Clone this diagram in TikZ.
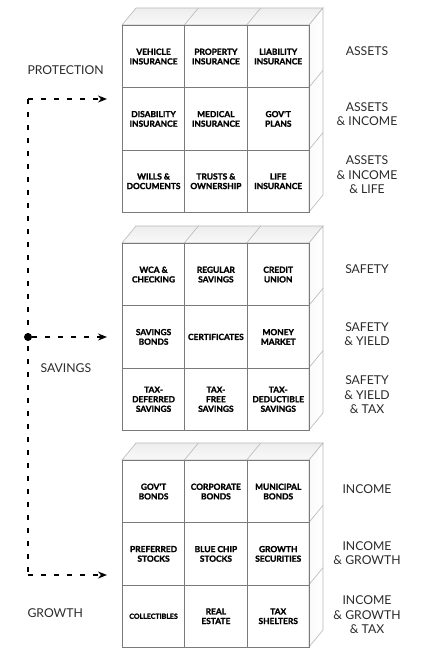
\documentclass[tikz,border=0pt]{standalone}
\usepackage{fontspec}
\setmainfont{Lato}
\newfontfamily\heavyfont[BoldFeatures={FakeBold=1.6}]{Lato}
\usetikzlibrary{arrows.meta}
\definecolor{cellline}{HTML}{7A7A7A}
\definecolor{edgeline}{HTML}{B8B8B8}
\definecolor{labeltext}{HTML}{2A2A2A}
\begin{document}
\begin{tikzpicture}[x=1pt,y=-1pt,
  cell/.style={draw=cellline, line width=0.8pt, minimum width=62.33pt, minimum height=62.33pt,
    inner sep=0pt, font=\heavyfont\bfseries\fontsize{8.4}{9.6}\selectfont, align=center, anchor=north west},
  small/.style={font=\heavyfont\bfseries\fontsize{7}{8}\selectfont},
  topface/.style={draw=edgeline, line width=0.6pt, top color=gray!14, bottom color=gray!5},
  sideface/.style={draw=edgeline, line width=0.6pt, left color=gray!4, right color=white},
  backline/.style={draw=edgeline, line width=0.6pt},
  rlabel/.style={font=\fontsize{12.2}{14.5}\selectfont, text=labeltext, align=center},
  llabel/.style={font=\fontsize{12.2}{14.5}\selectfont, text=labeltext, anchor=west},
  dashline/.style={line width=1.4pt, dash pattern=on 5pt off 8pt},
  tip/.style={-{Stealth[length=9pt,width=7pt]}}
]
\useasboundingbox (0,0) rectangle (433,649);

% ---- cube faces (top and side) ----
\foreach \T in {25,243,460}{
  \path[topface] (122,\T) -- (136,\T-17) -- (323,\T-17) -- (309,\T) -- cycle;
  \path[sideface] (309,\T) -- (323,\T-17) -- (323,\T+170) -- (309,\T+187) -- cycle;
  \draw[backline] (184.33,\T) -- (198.33,\T-17) (246.67,\T) -- (260.67,\T-17);
  \draw[backline] (309,\T+62.33) -- (323,\T+45.33) (309,\T+124.67) -- (323,\T+107.67);
}

% ---- cube 1: protection ----
\node[cell] (c11) at (122,25) {VEHICLE\\INSURANCE};
\node[cell] (c12) at (184.33,25) {PROPERTY\\INSURANCE};
\node[cell] (c13) at (246.67,25) {LIABILITY\\INSURANCE};
\node[cell] (c14) at (122,87.33) {DISABILITY\\INSURANCE};
\node[cell] (c15) at (184.33,87.33) {MEDICAL\\INSURANCE};
\node[cell] (c16) at (246.67,87.33) {GOV'T\\PLANS};
\node[cell] (c17) at (122,149.67) {WILLS \&\\DOCUMENTS};
\node[cell] (c18) at (184.33,149.67) {TRUSTS \&\\OWNERSHIP};
\node[cell] (c19) at (246.67,149.67) {LIFE\\INSURANCE};

% ---- cube 2: savings ----
\node[cell] (c21) at (122,243) {WCA \&\\CHECKING};
\node[cell] (c22) at (184.33,243) {REGULAR\\SAVINGS};
\node[cell] (c23) at (246.67,243) {CREDIT\\UNION};
\node[cell] (c24) at (122,305.33) {SAVINGS\\BONDS};
\node[cell] (c25) at (184.33,305.33) {CERTIFICATES};
\node[cell] (c26) at (246.67,305.33) {MONEY\\MARKET};
\node[cell] (c27) at (122,367.67) {TAX-\\DEFERRED\\SAVINGS};
\node[cell] (c28) at (184.33,367.67) {TAX-\\FREE\\SAVINGS};
\node[cell] (c29) at (246.67,367.67) {TAX-\\DEDUCTIBLE\\SAVINGS};

% ---- cube 3: growth ----
\node[cell] (c31) at (122,460) {GOV'T\\BONDS};
\node[cell] (c32) at (184.33,460) {CORPORATE\\BONDS};
\node[cell] (c33) at (246.67,460) {MUNICIPAL\\BONDS};
\node[cell] (c34) at (122,522.33) {PREFERRED\\STOCKS};
\node[cell] (c35) at (184.33,522.33) {BLUE CHIP\\STOCKS};
\node[cell] (c36) at (246.67,522.33) {GROWTH\\SECURITIES};
\node[cell,small] (c37) at (122,584.67) {COLLECTIBLES};
\node[cell] (c38) at (184.33,584.67) {REAL\\ESTATE};
\node[cell] (c39) at (246.67,584.67) {TAX\\SHELTERS};

% ---- right labels ----
\node[rlabel] (r11) at (367,51) {ASSETS};
\node[rlabel] (r12) at (367,114) {ASSETS\\\& INCOME};
\node[rlabel] (r13) at (367,175) {ASSETS\\\& INCOME\\\& LIFE};
\node[rlabel] (r21) at (367,269) {SAFETY};
\node[rlabel] (r22) at (367,334) {SAFETY\\\& YIELD};
\node[rlabel] (r23) at (367,395) {SAFETY\\\& YIELD\\\& TAX};
\node[rlabel] (r31) at (367,489) {INCOME};
\node[rlabel] (r32) at (367,553) {INCOME\\\& GROWTH};
\node[rlabel] (r33) at (367,615) {INCOME\\\& GROWTH\\\& TAX};

% ---- left labels ----
\node[llabel] (lp) at (24,70) {PROTECTION};
\node[llabel] (ls) at (37,368) {SAVINGS};
\node[llabel] (lg) at (24,613) {GROWTH};

% ---- connectors ----
\coordinate (spinetop) at (28,99);
\coordinate (spinebot) at (28,575);
\node[circle, fill=black, inner sep=0pt, minimum size=8pt] (hub) at (28,337) {};
\coordinate (a1) at (107,99);
\coordinate (a2) at (107,337);
\coordinate (a3) at (107,575);
\draw[dashline] (spinetop) -- (spinebot);
\draw[dashline,tip] (spinetop) -- (a1);
\draw[dashline,tip] (hub) -- (a2);
\draw[dashline,tip] (spinebot) -- (a3);
\end{tikzpicture}
\end{document}
